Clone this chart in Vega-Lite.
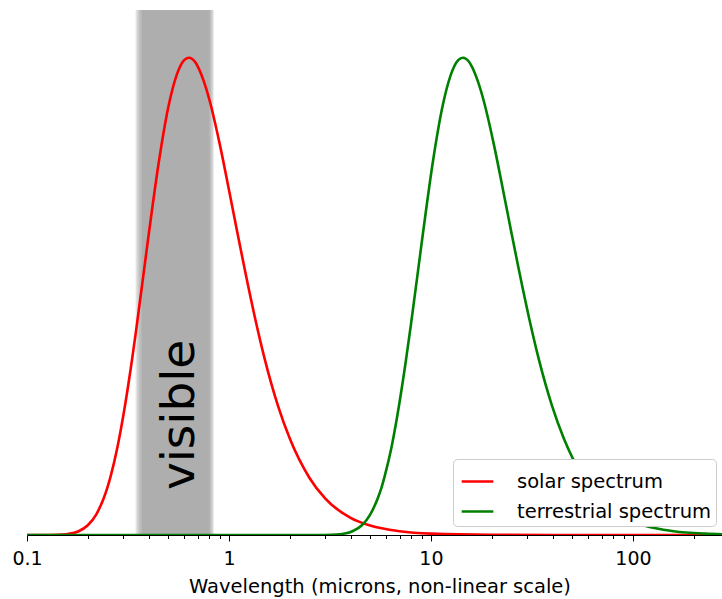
{
  "$schema": "https://vega.github.io/schema/vega-lite/v6.json",
  "width": 695,
  "height": 525,
  "autosize": {"type": "none"},
  "padding": {"left": 27, "top": 10, "right": 0, "bottom": 64},
  "background": "white",
  "config": {
    "view": {"stroke": null},
    "font": "DejaVu Sans"
  },
  "datasets": {
    "band": [
      {"lo": 0.345, "hi": 0.84},
      {"lo": 0.352, "hi": 0.83},
      {"lo": 0.36, "hi": 0.815},
      {"lo": 0.37, "hi": 0.8}
    ],
    "label": [{"x": 0.671, "y": 0.2516, "text": "visible"}],
    "spectra": [
      {"series": "solar spectrum", "wavelength": 0.1, "intensity": 0},
      {"series": "solar spectrum", "wavelength": 0.12, "intensity": 0.00004},
      {"series": "solar spectrum", "wavelength": 0.13, "intensity": 0.00014},
      {"series": "solar spectrum", "wavelength": 0.15, "intensity": 0.00103},
      {"series": "solar spectrum", "wavelength": 0.16, "intensity": 0.00224},
      {"series": "solar spectrum", "wavelength": 0.18, "intensity": 0.00782},
      {"series": "solar spectrum", "wavelength": 0.2, "intensity": 0.0204},
      {"series": "solar spectrum", "wavelength": 0.22, "intensity": 0.0429},
      {"series": "solar spectrum", "wavelength": 0.24, "intensity": 0.0775},
      {"series": "solar spectrum", "wavelength": 0.25, "intensity": 0.0994},
      {"series": "solar spectrum", "wavelength": 0.26, "intensity": 0.1245},
      {"series": "solar spectrum", "wavelength": 0.28, "intensity": 0.183},
      {"series": "solar spectrum", "wavelength": 0.3, "intensity": 0.251},
      {"series": "solar spectrum", "wavelength": 0.33, "intensity": 0.363},
      {"series": "solar spectrum", "wavelength": 0.35, "intensity": 0.441},
      {"series": "solar spectrum", "wavelength": 0.4, "intensity": 0.628},
      {"series": "solar spectrum", "wavelength": 0.45, "intensity": 0.783},
      {"series": "solar spectrum", "wavelength": 0.5, "intensity": 0.895},
      {"series": "solar spectrum", "wavelength": 0.55, "intensity": 0.963},
      {"series": "solar spectrum", "wavelength": 0.6, "intensity": 0.995},
      {"series": "solar spectrum", "wavelength": 0.633, "intensity": 1.0},
      {"series": "solar spectrum", "wavelength": 0.68, "intensity": 0.991},
      {"series": "solar spectrum", "wavelength": 0.7, "intensity": 0.982},
      {"series": "solar spectrum", "wavelength": 0.75, "intensity": 0.951},
      {"series": "solar spectrum", "wavelength": 0.8, "intensity": 0.912},
      {"series": "solar spectrum", "wavelength": 0.9, "intensity": 0.819},
      {"series": "solar spectrum", "wavelength": 1.0, "intensity": 0.723},
      {"series": "solar spectrum", "wavelength": 1.1, "intensity": 0.634},
      {"series": "solar spectrum", "wavelength": 1.2, "intensity": 0.554},
      {"series": "solar spectrum", "wavelength": 1.35, "intensity": 0.452},
      {"series": "solar spectrum", "wavelength": 1.5, "intensity": 0.37},
      {"series": "solar spectrum", "wavelength": 1.75, "intensity": 0.27},
      {"series": "solar spectrum", "wavelength": 2, "intensity": 0.202},
      {"series": "solar spectrum", "wavelength": 2.5, "intensity": 0.12},
      {"series": "solar spectrum", "wavelength": 3, "intensity": 0.076},
      {"series": "solar spectrum", "wavelength": 4, "intensity": 0.036},
      {"series": "solar spectrum", "wavelength": 5, "intensity": 0.0197},
      {"series": "solar spectrum", "wavelength": 7, "intensity": 0.0078},
      {"series": "solar spectrum", "wavelength": 10, "intensity": 0.0028},
      {"series": "solar spectrum", "wavelength": 20, "intensity": 0.0004},
      {"series": "solar spectrum", "wavelength": 50, "intensity": 0.00003},
      {"series": "solar spectrum", "wavelength": 100, "intensity": 0},
      {"series": "solar spectrum", "wavelength": 300, "intensity": 0},
      {"series": "terrestrial spectrum", "wavelength": 0.1, "intensity": 0},
      {"series": "terrestrial spectrum", "wavelength": 2.5, "intensity": 0},
      {"series": "terrestrial spectrum", "wavelength": 2.96, "intensity": 0.00014},
      {"series": "terrestrial spectrum", "wavelength": 3.41, "intensity": 0.00103},
      {"series": "terrestrial spectrum", "wavelength": 3.64, "intensity": 0.00224},
      {"series": "terrestrial spectrum", "wavelength": 4.09, "intensity": 0.00782},
      {"series": "terrestrial spectrum", "wavelength": 4.55, "intensity": 0.0204},
      {"series": "terrestrial spectrum", "wavelength": 5.0, "intensity": 0.0429},
      {"series": "terrestrial spectrum", "wavelength": 5.46, "intensity": 0.0775},
      {"series": "terrestrial spectrum", "wavelength": 5.69, "intensity": 0.0994},
      {"series": "terrestrial spectrum", "wavelength": 5.91, "intensity": 0.1245},
      {"series": "terrestrial spectrum", "wavelength": 6.37, "intensity": 0.183},
      {"series": "terrestrial spectrum", "wavelength": 6.82, "intensity": 0.251},
      {"series": "terrestrial spectrum", "wavelength": 7.5, "intensity": 0.363},
      {"series": "terrestrial spectrum", "wavelength": 7.96, "intensity": 0.441},
      {"series": "terrestrial spectrum", "wavelength": 9.1, "intensity": 0.628},
      {"series": "terrestrial spectrum", "wavelength": 10.23, "intensity": 0.783},
      {"series": "terrestrial spectrum", "wavelength": 11.37, "intensity": 0.895},
      {"series": "terrestrial spectrum", "wavelength": 12.51, "intensity": 0.963},
      {"series": "terrestrial spectrum", "wavelength": 13.64, "intensity": 0.995},
      {"series": "terrestrial spectrum", "wavelength": 14.39, "intensity": 1.0},
      {"series": "terrestrial spectrum", "wavelength": 15.46, "intensity": 0.991},
      {"series": "terrestrial spectrum", "wavelength": 15.92, "intensity": 0.982},
      {"series": "terrestrial spectrum", "wavelength": 17.06, "intensity": 0.951},
      {"series": "terrestrial spectrum", "wavelength": 18.19, "intensity": 0.912},
      {"series": "terrestrial spectrum", "wavelength": 20.47, "intensity": 0.819},
      {"series": "terrestrial spectrum", "wavelength": 22.74, "intensity": 0.723},
      {"series": "terrestrial spectrum", "wavelength": 25.01, "intensity": 0.634},
      {"series": "terrestrial spectrum", "wavelength": 27.29, "intensity": 0.554},
      {"series": "terrestrial spectrum", "wavelength": 30.7, "intensity": 0.452},
      {"series": "terrestrial spectrum", "wavelength": 34.11, "intensity": 0.37},
      {"series": "terrestrial spectrum", "wavelength": 39.8, "intensity": 0.27},
      {"series": "terrestrial spectrum", "wavelength": 45.48, "intensity": 0.202},
      {"series": "terrestrial spectrum", "wavelength": 56.85, "intensity": 0.12},
      {"series": "terrestrial spectrum", "wavelength": 68.22, "intensity": 0.076},
      {"series": "terrestrial spectrum", "wavelength": 90.96, "intensity": 0.036},
      {"series": "terrestrial spectrum", "wavelength": 113.7, "intensity": 0.0197},
      {"series": "terrestrial spectrum", "wavelength": 159.2, "intensity": 0.0078},
      {"series": "terrestrial spectrum", "wavelength": 227.4, "intensity": 0.0028},
      {"series": "terrestrial spectrum", "wavelength": 300, "intensity": 0.0013}
    ]
  },
  "resolve": {"axis": {"x": "independent"}},
  "layer": [
    {
      "data": {"name": "band"},
      "mark": {"type": "rect", "color": "#808080", "opacity": 0.22},
      "encoding": {
        "x": {
          "field": "lo",
          "type": "quantitative",
          "scale": {"type": "log", "domain": [0.1, 276], "nice": false},
          "axis": {
            "orient": "bottom",
            "values": [0.2, 0.3, 0.4, 0.5, 0.6, 0.7, 0.8, 0.9, 2, 3, 4, 5, 6, 7, 8, 9, 20, 30, 40, 50, 60, 70, 80, 90, 200],
            "labels": false,
            "domain": false,
            "grid": false,
            "title": null,
            "tickColor": "black",
            "tickWidth": 1,
            "tickSize": 3.5
          }
        },
        "x2": {"field": "hi"},
        "y": {"datum": 0, "type": "quantitative", "scale": {"domain": [0, 1.1], "nice": false}, "axis": null},
        "y2": {"datum": 1.1}
      }
    },
    {
      "data": {"name": "label"},
      "mark": {"type": "text", "angle": 270, "align": "center", "baseline": "alphabetic", "fontSize": 47, "font": "DejaVu Sans", "color": "black"},
      "encoding": {
        "x": {"field": "x", "type": "quantitative", "axis": null},
        "y": {"field": "y", "type": "quantitative", "axis": null},
        "text": {"field": "text"}
      }
    },
    {
      "data": {"name": "spectra"},
      "mark": {"type": "line", "strokeWidth": 2.6, "clip": true, "interpolate": "monotone"},
      "encoding": {
        "x": {
          "field": "wavelength",
          "type": "quantitative",
          "axis": {
            "orient": "bottom",
            "values": [0.1, 1, 10, 100],
            "labelExpr": "datum.value == 0.1 ? '0.1' : format(datum.value, 'd')",
            "labelOverlap": false,
            "labelFlush": false,
            "grid": false,
            "domainColor": "black",
            "domainWidth": 1,
            "tickColor": "black",
            "tickWidth": 1,
            "tickSize": 6,
            "labelFont": "DejaVu Sans",
            "labelFontSize": 19,
            "labelColor": "black",
            "labelPadding": 8,
            "title": "Wavelength (microns, non-linear scale)",
            "titleFont": "DejaVu Sans",
            "titleFontSize": 19.5,
            "titleFontWeight": "normal",
            "titleColor": "black",
            "titlePadding": 9,
            "titleX": 352.5
          }
        },
        "y": {
          "field": "intensity",
          "type": "quantitative",
          "axis": null
        },
        "color": {
          "field": "series",
          "type": "nominal",
          "scale": {"domain": ["solar spectrum", "terrestrial spectrum"], "range": ["#ff0000", "#008000"]},
          "legend": {
            "title": null,
            "orient": "none",
            "legendX": 426,
            "legendY": 449,
            "fillColor": "white",
            "strokeColor": "#cccccc",
            "cornerRadius": 4,
            "padding": 5,
            "symbolOffset": 2,
            "symbolType": "stroke",
            "symbolStrokeWidth": 2.6,
            "symbolSize": 1000,
            "labelFont": "DejaVu Sans",
            "labelFontSize": 19.5,
            "labelColor": "black",
            "labelOffset": 22,
            "labelLimit": 400,
            "rowPadding": 3
          }
        }
      }
    }
  ]
}
